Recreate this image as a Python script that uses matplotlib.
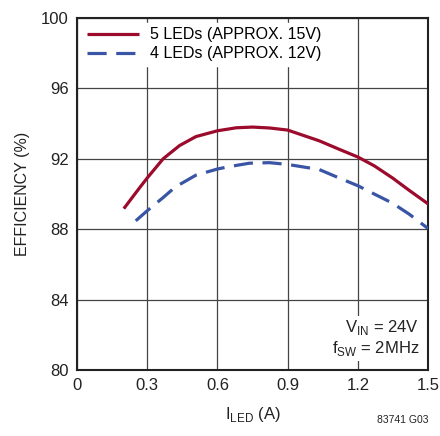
import matplotlib
matplotlib.use("Agg")
from matplotlib import pyplot as plt
import numpy as np

plt.rcParams['font.family'] = ['Liberation Sans Narrow', 'Liberation Sans', 'DejaVu Sans']
plt.rcParams['mathtext.fontset'] = 'custom'
plt.rcParams['mathtext.rm'] = 'Liberation Sans'

# data
i_led_5 = [0.2, 0.27, 0.3, 0.368, 0.438, 0.508, 0.6, 0.68, 0.75, 0.822, 0.9, 1.035, 1.12, 1.2, 1.27, 1.348, 1.42, 1.5]
eff_5 = [89.17, 90.4, 90.91, 92.0, 92.75, 93.26, 93.59, 93.76, 93.8, 93.75, 93.63, 93.02, 92.54, 92.1, 91.6, 90.91, 90.2, 89.44]
i_led_4 = [0.251, 0.3, 0.368, 0.42, 0.508, 0.6, 0.652, 0.737, 0.822, 0.9, 1.035, 1.12, 1.2, 1.27, 1.348, 1.42, 1.5]
eff_4 = [88.48, 89.05, 89.8, 90.4, 91.07, 91.42, 91.56, 91.75, 91.78, 91.68, 91.39, 90.91, 90.47, 90.0, 89.48, 88.85, 88.04]

xticks = [0, 0.3, 0.6, 0.9, 1.2, 1.5]
yticks = [80, 84, 88, 92, 96, 100]

red = '#9c0a2c'
blue = '#3a55a5'
fs = 11.5

fig = plt.figure(figsize=(4.4, 4.36), dpi=100)
ax = fig.add_axes([0.175, 0.151, 0.798, 0.808])

ax.plot(i_led_5, eff_5, color=red, lw=2.3, solid_capstyle='butt', solid_joinstyle='round',
        label='5 LEDs (APPROX. 15V)', zorder=3)
ax.plot(i_led_4, eff_4, color=blue, lw=2.3, dashes=(6, 3), dash_joinstyle='round',
        label='4 LEDs (APPROX. 12V)', zorder=3)

ax.set_xlim(0, 1.5)
ax.set_ylim(80, 100)
ax.set_xticks(xticks)
ax.set_xticklabels(['0', '0.3', '0.6', '0.9', '1.2', '1.5'])
ax.set_yticks(yticks)
ax.tick_params(length=0, labelsize=fs + 0.5, pad=6, colors='#222222')
ax.grid(True, color='#444444', lw=0.9, zorder=1)
for s in ax.spines.values():
    s.set_linewidth(1.5)
    s.set_color('#222222')

ax.set_xlabel('I$_{\\mathregular{LED}}$ (A)', fontsize=fs + 0.5, labelpad=8, color='#222222')
ax.set_ylabel('EFFICIENCY (%)', fontsize=fs, labelpad=8, color='#222222')

leg = ax.legend(loc='upper left', fontsize=fs, frameon=True, fancybox=False,
                handlelength=3.3, handletextpad=0.7, borderaxespad=0.3,
                labelspacing=0.25, borderpad=0.3)
leg.get_frame().set_edgecolor('white')
leg.get_frame().set_facecolor('white')
leg.get_frame().set_alpha(1)
leg.set_zorder(5)

ax.text(0.975, 0.035, 'V$_{\\mathregular{IN}}$ = 24V\nf$_{\\mathregular{SW}}$ = 2MHz',
        transform=ax.transAxes, ha='right', va='bottom', fontsize=fs + 0.5,
        color='#222222', linespacing=1.1, zorder=5,
        bbox=dict(facecolor='white', edgecolor='none', pad=2))

fig.text(0.973, 0.025, '83741 G03', ha='right', va='bottom', fontsize=7.5, color='#222222')
fig.text(0.38, 0.995, 'Efficiency vs I$_{\\mathregular{LED}}$', ha='center', va='bottom',
         fontsize=fs, color='#222222')

fig.savefig('out.png', dpi=100)
